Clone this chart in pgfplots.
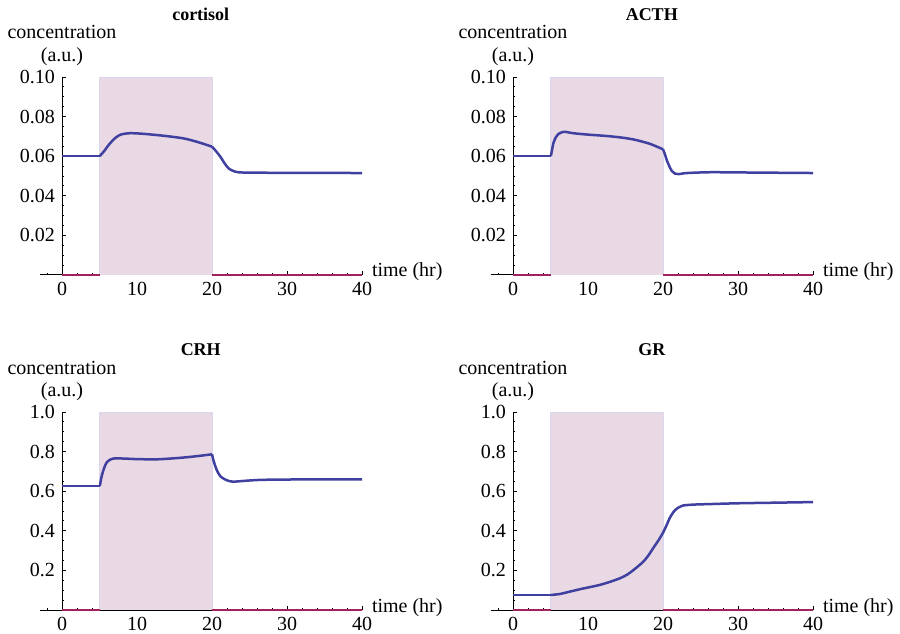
\documentclass[border=0pt]{standalone}
\usepackage{pgfplots}
\pgfplotsset{compat=1.18}
\usepackage{fontspec}
\setmainfont{Liberation Serif}
\definecolor{shade}{RGB}{232,217,228}
\definecolor{stim}{RGB}{160,35,95}
\definecolor{curve}{RGB}{64,64,160}
\definecolor{edge}{RGB}{215,215,240}
\pgfplotsset{
  mm/.style={
    scale only axis, width=161.25pt, height=99pt,
    xmin=-3, xmax=40, ymin=0,
    axis lines=middle, axis line style={-, black, line width=0.5pt},
    hide obscured x ticks=false, hide obscured y ticks=false,
    xtick={0,10,...,40}, minor xtick={-2,0,...,40},
    tick align=inside,
    major tick length=2pt, minor tick length=1.2pt,
    every tick/.style={black, line width=0.4pt},
    ticklabel style={font=\fontsize{10}{12}\selectfont},
    /pgf/number format/assume math mode=true,
    clip=false,
    xlabel={time (hr)},
    every axis x label/.style={at={(axis description cs:1,0)}, anchor=base west, inner sep=0pt, xshift=4.8pt, yshift=-1pt, font=\fontsize{10}{12}\selectfont},
    ylabel={concentration\\(a.u.)},
    every axis y label/.style={at={(axis description cs:0.069767,1)}, anchor=base, inner sep=0pt, yshift=7.7pt, align=center, font=\fontsize{10}{11.3}\selectfont},
    every axis title/.style={at={(axis description cs:0.5,1)}, anchor=base, inner sep=0pt, yshift=28pt, font=\fontsize{9}{11}\selectfont\bfseries},
  },
  small/.style={mm, ymax=0.1, ytick={0.02,0.04,...,0.1}, minor ytick={0,0.005,...,0.1},
    yticklabel style={/pgf/number format/.cd, fixed, fixed zerofill, precision=2}},
  big/.style={mm, ymax=1, ytick={0.2,0.4,...,1.0}, minor ytick={0,0.05,...,1.0},
    yticklabel style={/pgf/number format/.cd, fixed, fixed zerofill, precision=1}},
  curvestyle/.style={curve, line width=1.25pt, smooth, tension=0.5},
}
\begin{document}
\begin{tikzpicture}
\path[use as bounding box] (0,0) rectangle (450pt,316.5pt);
% cortisol
\begin{axis}[small, title={cortisol}, at={(31pt,179pt)}, anchor=origin]
\addplot[fill=shade, draw=edge, line width=0.3pt] coordinates {(5,0) (5,0.1) (20,0.1) (20,0)};
\addplot[stim, line width=1pt] coordinates {(0,0) (5,0)};
\addplot[stim, line width=1pt] coordinates {(20,0) (40,0)};
\addplot[curvestyle] coordinates {(0,0.0601) (5.05,0.0601)};
\addplot[curvestyle] coordinates {(5.05,0.0601) (5.6,0.0625) (6.4,0.0665) (7.2,0.0695) (7.9,0.0710) (9.0,0.0716) (10.5,0.0714) (12.6,0.0707) (14.5,0.0699) (16.2,0.0690) (17.5,0.0678) (18.4,0.0668) (19.3,0.0657) (20,0.0648)};
\addplot[curvestyle] coordinates {(20,0.0648) (20.5,0.0627) (21.1,0.0598) (21.7,0.0563) (22.2,0.0539) (22.8,0.0526) (23.5,0.0519) (25,0.0517) (30,0.0516) (40,0.0515)};
\end{axis}
% ACTH
\begin{axis}[small, title={ACTH}, at={(256.5pt,179pt)}, anchor=origin]
\addplot[fill=shade, draw=edge, line width=0.3pt] coordinates {(5,0) (5,0.1) (20,0.1) (20,0)};
\addplot[stim, line width=1pt] coordinates {(0,0) (5,0)};
\addplot[stim, line width=1pt] coordinates {(20,0) (40,0)};
\addplot[curvestyle] coordinates {(0,0.0601) (5.05,0.0601)};
\addplot[curvestyle] coordinates {(5.05,0.0601) (5.2,0.0630) (5.38,0.0665) (5.7,0.0695) (6.04,0.0712) (6.7,0.0723) (7.3,0.0721) (8.04,0.0716) (10,0.0709) (12.5,0.0702) (14.5,0.0694) (16,0.0685) (17.3,0.0673) (18.3,0.0662) (19.2,0.0648) (20,0.0635)};
\addplot[curvestyle] coordinates {(20,0.0635) (20.3,0.0605) (20.5,0.0580) (20.9,0.0545) (21.2,0.0524) (21.6,0.0512) (22.2,0.0510) (23.2,0.0515) (26.3,0.0519) (30,0.0518) (40,0.0515)};
\end{axis}
% CRH
\begin{axis}[big, title={CRH}, at={(31pt,11.5pt)}, anchor=origin]
\addplot[fill=shade, draw=edge, line width=0.3pt] coordinates {(5,0) (5,1) (20,1) (20,0)};
\addplot[stim, line width=1pt] coordinates {(0,0) (5,0)};
\addplot[stim, line width=1pt] coordinates {(20,0) (40,0)};
\addplot[curvestyle] coordinates {(0,0.626) (5.05,0.626)};
\addplot[curvestyle] coordinates {(5.05,0.626) (5.2,0.660) (5.42,0.694) (5.7,0.725) (5.96,0.745) (6.4,0.759) (6.84,0.765) (8.2,0.765) (10,0.762) (12.6,0.761) (14.5,0.765) (16.2,0.770) (18,0.777) (19.7,0.785) (20,0.787)};
\addplot[curvestyle] coordinates {(20,0.787) (20.2,0.755) (20.5,0.720) (20.8,0.694) (21.2,0.672) (21.7,0.660) (22.3,0.651) (22.8,0.648) (23.6,0.650) (24.6,0.653) (26.4,0.657) (30,0.659) (40,0.660)};
\end{axis}
% GR
\begin{axis}[big, title={GR}, at={(256.5pt,11.5pt)}, anchor=origin]
\addplot[fill=shade, draw=edge, line width=0.3pt] coordinates {(5,0) (5,1) (20,1) (20,0)};
\addplot[stim, line width=1pt] coordinates {(0,0) (5,0)};
\addplot[stim, line width=1pt] coordinates {(20,0) (40,0)};
\addplot[curvestyle] coordinates {(0,0.076) (5.05,0.076)};
\addplot[curvestyle] coordinates {(5.05,0.076) (6.27,0.081) (7.6,0.093) (8.93,0.105) (10.3,0.116) (11.6,0.127) (13,0.143) (14.3,0.161) (15.2,0.178) (16,0.200) (16.8,0.225) (17.4,0.245) (18.1,0.278) (18.7,0.313) (19.4,0.352) (20,0.390)};
\addplot[curvestyle] coordinates {(20,0.390) (20.5,0.430) (20.9,0.465) (21.4,0.495) (21.8,0.511) (22.3,0.522) (22.7,0.528) (23.5,0.531) (24.5,0.533) (26.3,0.535) (30,0.539) (35,0.542) (40,0.545)};
\end{axis}
\end{tikzpicture}
\end{document}
